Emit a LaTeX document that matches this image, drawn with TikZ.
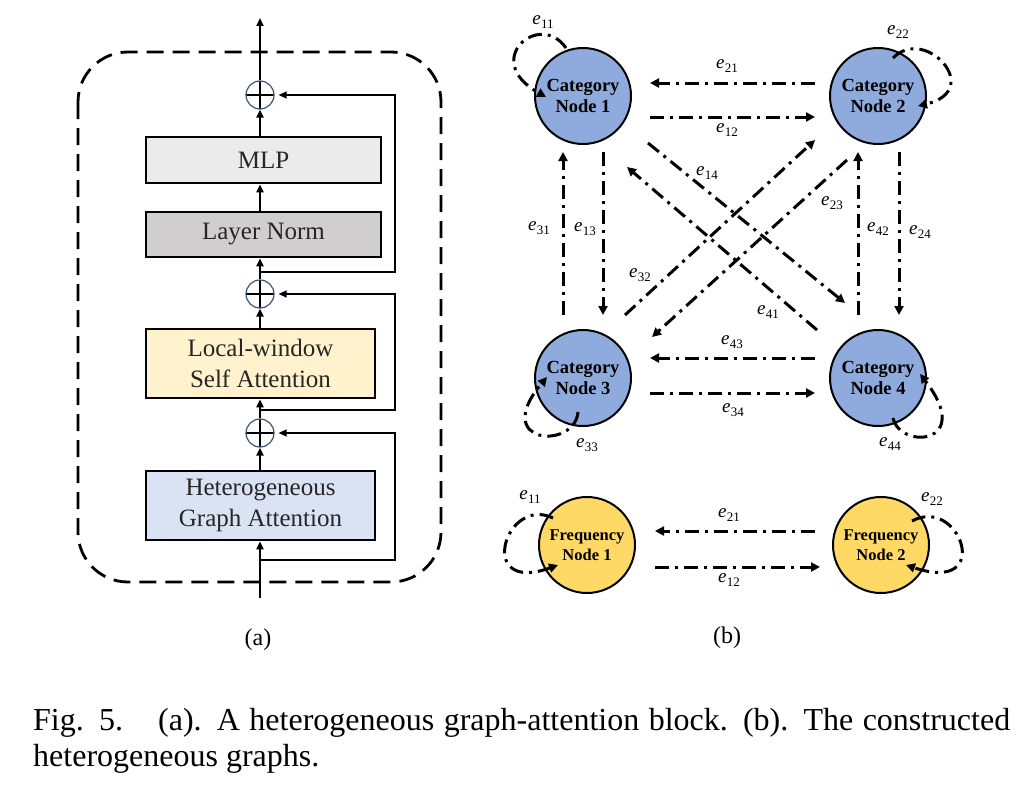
\documentclass[tikz,border=0pt]{standalone}
\usepackage{fontspec}
\setmainfont{Liberation Serif}
\usetikzlibrary{arrows.meta,calc}
\definecolor{catblue}{HTML}{8FAADC}
\definecolor{freqyellow}{HTML}{FFD966}
\definecolor{mlpgray}{HTML}{EBEBEB}
\definecolor{lngray}{HTML}{D0CECE}
\definecolor{lwyellow}{HTML}{FFF2CC}
\definecolor{hgblue}{HTML}{DAE3F3}
\definecolor{plusblue}{HTML}{3F5377}
\newcommand\elabtext[1]{\textit{e}\kern0.3pt\raisebox{-4pt}{\fontsize{13}{13}\selectfont #1}}
\begin{document}
\begin{tikzpicture}[x=1pt,y=-1pt,
  blockbox/.style={draw=black, line width=2.8pt, inner sep=0pt, align=center,
    text=black!85, font=\fontsize{25}{31}\selectfont},
  plusnode/.style={circle, draw=plusblue, line width=1.2pt, minimum size=28pt, inner sep=0pt,
    path picture={\draw[black,line width=2.6pt]
      (path picture bounding box.north) -- (path picture bounding box.south)
      (path picture bounding box.west) -- (path picture bounding box.east);}},
  mainarr/.style={line width=2pt, -{Triangle[length=8pt,width=7pt]}},
  skiparr/.style={line width=1.3pt, -{Triangle[length=8pt,width=7pt]}},
  catnode/.style={circle, draw=black, line width=2pt, fill=catblue, minimum size=96pt,
    inner sep=0pt, align=center, font=\bfseries\fontsize{18.5}{21}\selectfont},
  freqnode/.style={circle, draw=black, line width=2pt, fill=freqyellow, minimum size=96pt,
    inner sep=0pt, align=center, font=\bfseries\fontsize{16.5}{20}\selectfont},
  gedge/.style={line width=3pt, dash pattern=on 14pt off 6pt on 3pt off 6pt,
    -{Triangle[length=9pt,width=9pt]}},
  elab/.style={inner sep=0pt, font=\fontsize{19}{19}\selectfont},
  sublab/.style={inner sep=0pt, font=\fontsize{24}{28}\selectfont}
]
\useasboundingbox (0,0) rectangle (1032,792);

% ---------------- (a) ----------------
\draw[line width=2.8pt, dash pattern=on 17pt off 9pt, rounded corners=50pt]
  (78,52) rectangle (441,582);

\node[blockbox, fill=mlpgray, minimum width=235pt, minimum height=46pt] (mlp) at (263.5,160) {MLP};
\node[blockbox, fill=lngray, minimum width=235pt, minimum height=45pt] (ln) at (263.5,234.5) {Layer Norm};
\node[blockbox, fill=lwyellow, minimum width=229pt, minimum height=69pt] (lw) at (260.5,363.5) {Local-window\\Self Attention};
\node[blockbox, fill=hgblue, minimum width=229pt, minimum height=69pt] (hg) at (260.5,505.5) {Heterogeneous\\Graph Attention};

\node[plusnode] (p1) at (260,95) {};
\node[plusnode] (p2) at (260,294) {};
\node[plusnode] (p3) at (260,433) {};

\coordinate (out) at (260,18);
\coordinate (in) at (260,598);
\coordinate (j1) at (260,560);
\coordinate (j2) at (260,410);
\coordinate (j3) at (260,272);

\draw[mainarr] (in) -- (p1 |- hg.south);
\draw[mainarr] (p3 |- hg.north) -- (p3.south);
\draw[mainarr] (p3.north) -- (p3 |- lw.south);
\draw[mainarr] (p2 |- lw.north) -- (p2.south);
\draw[mainarr] (p2.north) -- (p2 |- ln.south);
\draw[mainarr] (p1 |- ln.north) -- (p1 |- mlp.south);
\draw[mainarr] (p1 |- mlp.north) -- (p1.south);
\draw[mainarr] (p1.north) -- (out);

\draw[skiparr, shorten >=4pt] (j1) -- ++(135,0) |- (p3.east);
\draw[skiparr, shorten >=4pt] (j2) -- ++(135,0) |- (p2.east);
\draw[skiparr, shorten >=4pt] (j3) -- ++(135,0) |- (p1.east);

\node[sublab] (la) at (258,640) {(a)};

% ---------------- (b) ----------------
\node[catnode] (c1) at (583,96) {Category\\Node 1};
\node[catnode] (c2) at (878,96) {Category\\Node 2};
\node[catnode] (c3) at (583,378) {Category\\Node 3};
\node[catnode] (c4) at (878,378) {Category\\Node 4};
\node[freqnode] (f1) at (587,545) {Frequency\\Node 1};
\node[freqnode] (f2) at (881,545) {Frequency\\Node 2};

% horizontal
\draw[gedge] ($(c2)+(-63,-13)$) -- ($(c1)+(67,-13)$);
\draw[gedge] ($(c1)+(67,21)$) -- ($(c2)+(-63,21)$);
\draw[gedge] ($(c4)+(-63,-20)$) -- ($(c3)+(67,-20)$);
\draw[gedge] ($(c3)+(67,15)$) -- ($(c4)+(-63,15)$);
\draw[gedge] ($(f2)+(-66,-14)$) -- ($(f1)+(68,-14)$);
\draw[gedge] ($(f1)+(68,22)$) -- ($(f2)+(-61,22)$);
% vertical
\draw[gedge] ($(c3)+(-20,-63)$) -- ($(c1)+(-20,56)$);
\draw[gedge] ($(c1)+(20,56)$) -- ($(c3)+(20,-63)$);
\draw[gedge] ($(c4)+(-20,-63)$) -- ($(c2)+(-20,56)$);
\draw[gedge] ($(c2)+(21,56)$) -- ($(c4)+(21,-63)$);
% diagonals
\draw[gedge] ($(c1)+(65,47)$) -- ($(c4)+(-33,-75)$);
\draw[gedge] ($(c4)+(-61,-48)$) -- ($(c1)+(44,71)$);
\draw[gedge] ($(c2)+(-31,64)$) -- ($(c3)+(69,-41)$);
\draw[gedge] ($(c3)+(42,-63)$) -- ($(c2)+(-63,44)$);
% self loops
\draw[gedge] ($(c1)+(-17,-48)$) .. controls ($(c1)+(-43,-86)$) and ($(c1)+(-103,-36)$) .. ($(c1)+(-37,1)$);
\draw[gedge] ($(c2)+(15,-38)$) .. controls ($(c2)+(47,-71)$) and ($(c2)+(107,-6)$) .. ($(c2)+(40,10)$);
\draw[gedge] ($(c3)+(-5,34)$) .. controls ($(c3)+(-8,72)$) and ($(c3)+(-93,67)$) .. ($(c3)+(-36,-1)$);
\draw[gedge] ($(c4)+(15,40)$) .. controls ($(c4)+(22,72)$) and ($(c4)+(97,67)$) .. ($(c4)+(42,-4)$);
\draw[gedge] ($(f1)+(-34,-27)$) .. controls ($(f1)+(-82,-50)$) and ($(f1)+(-112,50)$) .. ($(f1)+(-29,20)$);
\draw[gedge] ($(f2)+(31,-24)$) .. controls ($(f2)+(79,-50)$) and ($(f2)+(114,50)$) .. ($(f2)+(25,20)$);

% edge labels
\node[elab] (l11) at (543,22) {\elabtext{11}};
\node[elab] (l22) at (898,32) {\elabtext{22}};
\node[elab] (l21) at (727,66) {\elabtext{21}};
\node[elab] (l12) at (727,130) {\elabtext{12}};
\node[elab] (l14) at (707,173) {\elabtext{14}};
\node[elab] (l23) at (832,203) {\elabtext{23}};
\node[elab] (l31) at (539,228) {\elabtext{31}};
\node[elab] (l13) at (585,229) {\elabtext{13}};
\node[elab] (l42) at (878,229) {\elabtext{42}};
\node[elab] (l24) at (920,232) {\elabtext{24}};
\node[elab] (l32) at (640,275) {\elabtext{32}};
\node[elab] (l41) at (768,312) {\elabtext{41}};
\node[elab] (l43) at (732,342) {\elabtext{43}};
\node[elab] (l34) at (733,410) {\elabtext{34}};
\node[elab] (l33) at (587,445) {\elabtext{33}};
\node[elab] (l44) at (890,444) {\elabtext{44}};
\node[elab] (fl11) at (530,497) {\elabtext{11}};
\node[elab] (fl22) at (932,499) {\elabtext{22}};
\node[elab] (fl21) at (729,515) {\elabtext{21}};
\node[elab] (fl12) at (729,580) {\elabtext{12}};

\node[sublab] (lb) at (727,638) {(b)};

% caption
\node[anchor=base west, inner sep=0pt, font=\fontsize{32}{36}\selectfont] (cap1) at (33,730)
  {\makebox[977pt][s]{Fig. 5.\hspace{1.1em}(a). A heterogeneous graph-attention block. (b). The constructed}};
\node[anchor=base west, inner sep=0pt, font=\fontsize{32}{36}\selectfont] (cap2) at (33,766)
  {heterogeneous graphs.};
\end{tikzpicture}
\end{document}
